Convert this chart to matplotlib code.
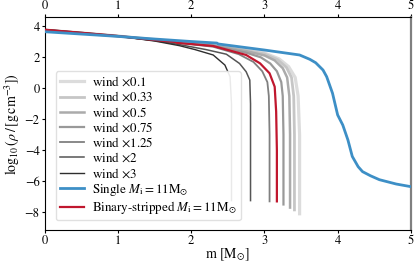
import matplotlib
matplotlib.use('Agg')
import matplotlib.pyplot as plt
import numpy as np

## Fonts: LaTeX-like look
matplotlib.rc('font', family='STIXGeneral', size=8)
matplotlib.rc('mathtext', fontset='stix')

## Data: (m, log10 rho) per model
wind_labels = [r'wind $\times0.1$', r'wind $\times0.33$', r'wind $\times0.5$',
               r'wind $\times0.75$', r'wind $\times1.25$', r'wind $\times2$', r'wind $\times3$']

m_w01 = [0, 0.5, 1.0, 1.5, 1.85, 2.3, 2.75, 3.0, 3.2, 3.33, 3.42, 3.46, 3.48, 3.48]
r_w01 = [3.76, 3.57, 3.37, 3.14, 2.98, 2.78, 2.5, 2.28, 1.9, 1.4, 0.7, -0.5, -3.0, -8.1]
m_w033 = [0, 0.5, 1.0, 1.5, 1.85, 2.3, 2.75, 3.0, 3.18, 3.3, 3.37, 3.40, 3.41, 3.41]
r_w033 = [3.76, 3.57, 3.37, 3.13, 2.97, 2.77, 2.45, 2.22, 1.85, 1.35, 0.7, -0.5, -3.0, -7.85]
m_w05 = [0, 0.5, 1.0, 1.5, 1.85, 2.3, 2.75, 3.0, 3.14, 3.25, 3.31, 3.34, 3.35, 3.35]
r_w05 = [3.76, 3.57, 3.37, 3.13, 2.96, 2.76, 2.4, 2.12, 1.8, 1.3, 0.7, -0.5, -3.0, -7.7]
m_w075 = [0, 0.5, 1.0, 1.5, 1.85, 2.3, 2.75, 2.95, 3.08, 3.17, 3.23, 3.25, 3.26, 3.26]
r_w075 = [3.77, 3.58, 3.37, 3.12, 2.95, 2.74, 2.3, 2.0, 1.6, 1.1, 0.4, -0.5, -3.0, -7.5]
m_w125 = [0, 0.5, 1.0, 1.5, 1.85, 2.3, 2.65, 2.85, 2.97, 3.04, 3.06, 3.07, 3.07]
r_w125 = [3.78, 3.58, 3.37, 3.11, 2.92, 2.68, 2.2, 1.7, 1.1, 0.4, -0.5, -3.0, -7.3]
m_w2 = [0, 0.5, 1.0, 1.5, 1.84, 2.2, 2.48, 2.66, 2.75, 2.8, 2.81, 2.81]
r_w2 = [3.78, 3.58, 3.37, 3.08, 2.82, 2.5, 2.2, 1.6, 1.07, 0.53, -1.0, -7.25]
m_w3 = [0, 0.5, 1.0, 1.5, 1.84, 2.05, 2.3, 2.46, 2.53, 2.55, 2.55]
r_w3 = [3.78, 3.58, 3.37, 3.05, 2.75, 2.5, 2.15, 1.5, 0.75, -1.0, -7.25]

m_single = [0, 0.5, 1.0, 1.5, 2.0, 2.35, 2.37, 3.0, 3.48, 3.62, 3.7, 3.8, 3.85, 3.93, 4.0,
            4.07, 4.14, 4.2, 4.28, 4.34, 4.45, 4.57, 4.8, 5.0]
r_single = [3.65, 3.5, 3.35, 3.18, 3.02, 2.92, 2.86, 2.47, 2.15, 1.87, 1.65, 1.18, 0.75, -0.32, -1.72,
            -2.37, -3.33, -4.4, -5.06, -5.38, -5.65, -5.9, -6.18, -6.35]

m_binary = [0, 0.5, 1.0, 1.5, 1.78, 1.8, 2.3, 2.75, 2.94, 3.07, 3.14, 3.16, 3.17, 3.17]
r_binary = [3.78, 3.58, 3.37, 3.12, 2.99, 2.94, 2.73, 2.15, 1.61, 0.97, 0.1, -1.5, -4.0, -7.3]

wind_m = [m_w01, m_w033, m_w05, m_w075, m_w125, m_w2, m_w3]
wind_r = [r_w01, r_w033, r_w05, r_w075, r_w125, r_w2, r_w3]
wind_colors = ['#dcdcdc', '#c6c6c6', '#ababab', '#999999', '#808080', '#555555', '#2e2e2e']
wind_lw = [2.3, 2.0, 1.8, 1.6, 1.3, 1.1, 1.0]

fig = plt.figure(figsize=(4.15, 2.62), dpi=100)
ax = fig.add_axes([0.108, 0.122, 0.882, 0.813])

for mm, rr, c, lw, lab in zip(wind_m, wind_r, wind_colors, wind_lw, wind_labels):
    ax.plot(mm, rr, color=c, lw=lw, label=lab)
ax.plot(m_single, r_single, color='#3d8fc6', lw=2.0, label=r'Single $M_{\rm i}=11\mathrm{M}_{\odot}$', zorder=4)
ax.plot(m_binary, r_binary, color='#c0172e', lw=1.6, label=r'Binary-stripped $M_{\rm i}=11\mathrm{M}_{\odot}$', zorder=3)

## Axes
ax.set_xlim((0, 5))
ax.set_ylim((-9.15, 4.6))
ax.set_xticks([0, 1, 2, 3, 4, 5])
ax.set_yticks([-8, -6, -4, -2, 0, 2, 4])
ax.tick_params(direction='out', length=2.5, width=0.8, labelsize=9, pad=1.2,
               top=True, labeltop=True)
ax.spines['right'].set_color('#808080')
ax.spines['right'].set_linewidth(1.6)

## ==== Outputting ====
ax.set_xlabel(r'm [M$_{\odot}$]', fontsize=10, labelpad=0)
ax.set_ylabel(r'$\log_{10}(\rho\,/\,[\mathrm{g\,cm^{-3}}])$', fontsize=10, labelpad=2)
ax.legend(prop={'size': 9.4}, loc='lower left', bbox_to_anchor=(0.012, 0.015),
          handlelength=1.9, handletextpad=0.6, labelspacing=0.12, borderpad=0.3,
          frameon=True, edgecolor='#dddddd', framealpha=0.9)
plt.savefig("out.png", dpi=100)
